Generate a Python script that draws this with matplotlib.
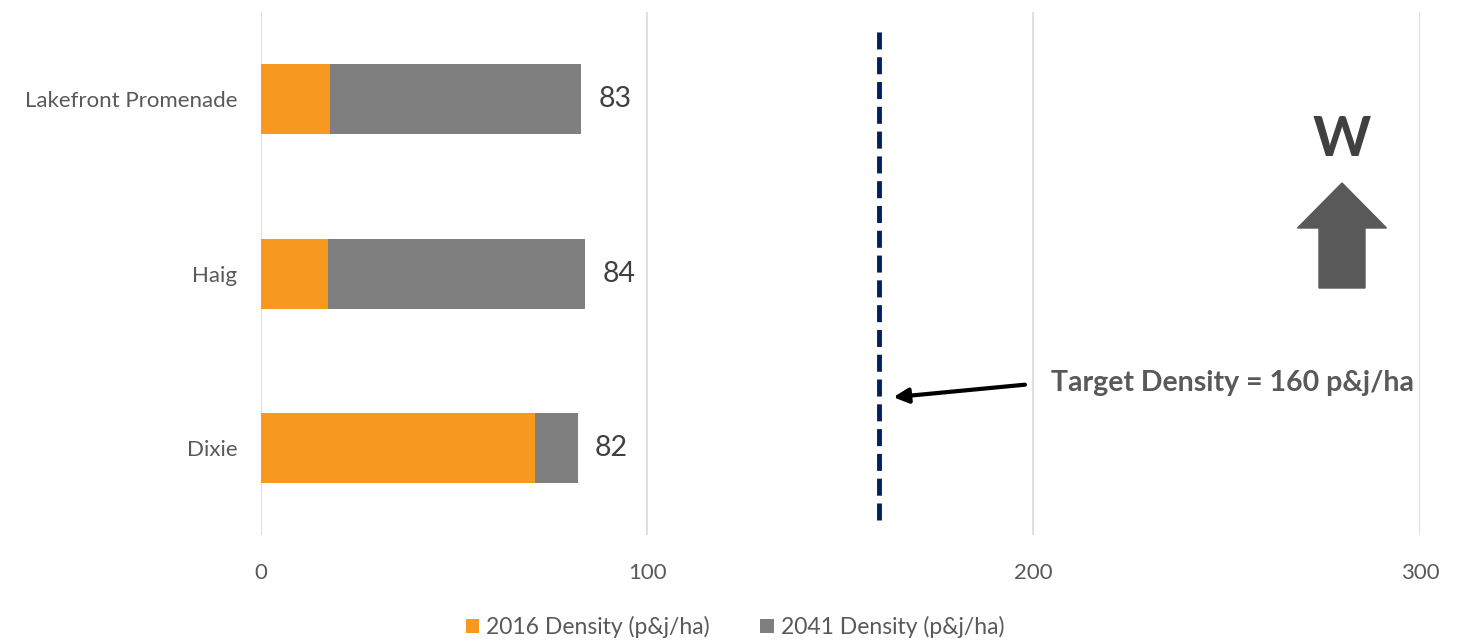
import matplotlib.pyplot as plt
import matplotlib.patches as mpatches

plt.rcParams['font.family'] = ['Lato', 'DejaVu Sans']

# Density per area, people & jobs per hectare
areas = ['Dixie', 'Haig', 'Lakefront Promenade']
density_2016 = [71, 17.5, 18]
density_2041 = [82, 84, 83]
target_density = 160

growth = [total - now for total, now in zip(density_2041, density_2016)]

orange = '#f7991e'
grey = '#7f7f7f'
text_grey = '#595959'

fig = plt.figure(figsize=(14.57, 6.41), dpi=100)
ax = fig.add_axes([0.179, 0.165, 0.7955, 0.816])

ypos = range(len(areas))
ax.barh(ypos, density_2016, height=0.4, color=orange, label='2016 Density (p&j/ha)')
ax.barh(ypos, growth, left=density_2016, height=0.4, color=grey,
        label='2041 Density (p&j/ha)')

# total labels at the end of each bar
for y, total in zip(ypos, density_2041):
    ax.text(total + 4.5, y, f'{total}', va='center', ha='left', fontsize=20.5,
            color='#404040')

# target line
ax.plot([target_density, target_density], [-0.41, 2.4], color='#002060',
        lw=3.5, ls=(0, (3.5, 1.6)), zorder=3)
ax.annotate('', xy=(target_density + 3, 0.29), xytext=(198.5, 0.365),
            arrowprops=dict(arrowstyle='-|>', color='black', lw=3, mutation_scale=22))
ax.text(204.5, 0.375, 'Target Density = 160 p&j/ha', fontsize=20.5, fontweight='bold',
        color=text_grey, va='center', ha='left')

ax.set_xlim(0, 300)
ax.set_ylim(-0.5, 2.5)
ax.set_xticks([0, 100, 200, 300])
ax.set_yticks(list(ypos))
ax.set_yticklabels(areas)
ax.tick_params(axis='both', length=0, labelsize=16, labelcolor=text_grey)
ax.tick_params(axis='y', pad=17)
ax.tick_params(axis='x', pad=20)
ax.grid(axis='x', color='#d9d9d9', lw=1.2)
ax.set_axisbelow(True)
for s in ax.spines.values():
    s.set_visible(False)

# north arrow
fig.text(1342 / 1457, 1 - 140 / 641, 'W', fontsize=40, fontweight='bold',
         color='#404040', ha='center', va='center')
arrow = mpatches.FancyArrow(1342 / 1457, 1 - 288 / 641, 0, 105 / 641, width=46 / 1457,
                            head_width=89 / 1457, head_length=45 / 641,
                            length_includes_head=True, color='#595959',
                            transform=fig.transFigure)
fig.patches.append(arrow)

leg = fig.legend(loc='center', bbox_to_anchor=(735 / 1457, 1 - 627 / 641), ncol=2,
                 frameon=False, prop={'size': 16.5},
                 handlelength=0.6, handleheight=0.6, handletextpad=0.3,
                 columnspacing=2.2, labelcolor=text_grey)

fig.savefig('out.png', dpi=100)
